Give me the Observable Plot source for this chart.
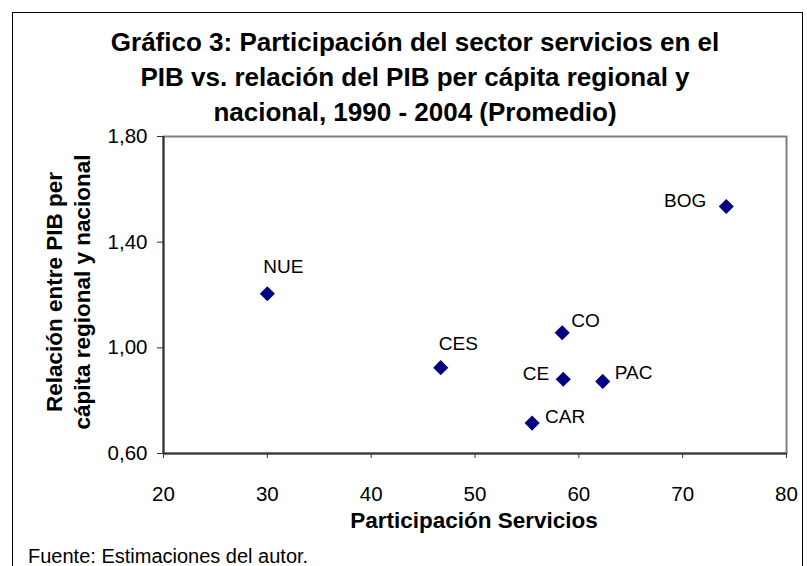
<!DOCTYPE html>
<html><head><meta charset="utf-8">
<script src="https://cdn.jsdelivr.net/npm/d3@7"></script>
<script src="https://cdn.jsdelivr.net/npm/@observablehq/plot@0.6"></script>
<style>
html,body{margin:0;padding:0;background:#fff;overflow:hidden;}
body{font-family:Arial,"Liberation Sans",sans-serif;color:#000;}
#wrap{position:relative;width:807px;height:566px;overflow:hidden;}
#frame{position:absolute;left:12px;top:12px;width:791px;height:620px;border:1px solid #000;box-sizing:border-box;}
#chart{position:absolute;left:0;top:0;}
#title{position:absolute;left:65px;width:700px;top:25px;text-align:center;font-weight:bold;font-size:26px;line-height:35px;}
#ytitle{position:absolute;left:69px;top:292px;width:380px;transform:translate(-50%,-50%) rotate(-90deg);text-align:center;font-weight:bold;font-size:22.5px;line-height:28px;}
#xtitle{position:absolute;left:174px;width:600px;top:507px;text-align:center;font-weight:bold;font-size:22.5px;line-height:28px;}
#source{position:absolute;left:28px;top:543px;font-size:20px;line-height:26px;}
</style>
</head><body>
<div id="wrap">
  <div id="frame"></div>
  <div id="chart"></div>
  <div id="title">Gráfico 3: Participación del sector servicios en el<br>PIB vs. relación del PIB per cápita regional y<br>nacional, 1990 - 2004 (Promedio)</div>
  <div id="ytitle">Relación entre PIB per<br>cápita regional y nacional</div>
  <div id="xtitle">Participación Servicios</div>
  <div id="source">Fuente: Estimaciones del autor.</div>
</div>
<script>
// Data
const regions = ["NUE", "CES", "CO", "CE", "PAC", "CAR", "BOG"];
const servicios = [30.0, 46.7, 58.4, 58.5, 62.3, 55.5, 74.2];
const relacionPIB = [1.205, 0.925, 1.057, 0.881, 0.873, 0.715, 1.535];
const xTicks = [20, 30, 40, 50, 60, 70, 80];
const yTicks = [0.6, 1.0, 1.4, 1.8];

const data = regions.map((r, i) => ({region: r, x: servicios[i], y: relacionPIB[i]}));

// label placement (style, not data)
const labelPlacement = {
  NUE: {dx: 16, dy: -27, anchor: "middle"},
  CES: {dx: -2, dy: -24, anchor: "start"},
  CO:  {dx: 9, dy: -12, anchor: "start"},
  CE:  {dx: -14, dy: -5, anchor: "end"},
  PAC: {dx: 12, dy: -8, anchor: "start"},
  CAR: {dx: 13, dy: -6, anchor: "start"},
  BOG: {dx: -20, dy: -6, anchor: "end"}
};

const fmt = d => d3.format(".2f")(d).replace(".", ",");

const plot = Plot.plot({
  width: 807,
  height: 566,
  marginLeft: 163,
  marginRight: 21,
  marginTop: 136,
  marginBottom: 113,
  style: {background: "transparent", fontFamily: "Arial, 'Liberation Sans', sans-serif", fontSize: "20.5px", color: "#000"},
  x: {domain: [20, 80]},
  y: {domain: [0.6, 1.8]},
  marks: [
    Plot.frame({stroke: "#808080", strokeWidth: 2}),
    Plot.ruleX([20], {stroke: "#333", strokeWidth: 2}),
    Plot.ruleY([0.6], {stroke: "#333", strokeWidth: 2}),
    Plot.axisX({ticks: xTicks, tickSize: 5, tickPadding: 28, tickFormat: d => String(d), stroke: "#333", label: null, fontSize: 20.5}),
    Plot.axisY({ticks: yTicks, tickSize: 6, tickPadding: 10, tickFormat: fmt, stroke: "#333", label: null, fontSize: 20.5}),
    Plot.dot(data, {x: "x", y: "y", symbol: "diamond2", r: 6.8, fill: "#000080"}),
    ...regions.map(name => {
      const p = labelPlacement[name];
      return Plot.text(data.filter(d => d.region === name), {
        x: "x", y: "y", text: "region", dx: p.dx, dy: p.dy, textAnchor: p.anchor,
        fontSize: 19, fill: "#000"
      });
    })
  ]
});
document.getElementById("chart").appendChild(plot);
</script>
</body></html>
